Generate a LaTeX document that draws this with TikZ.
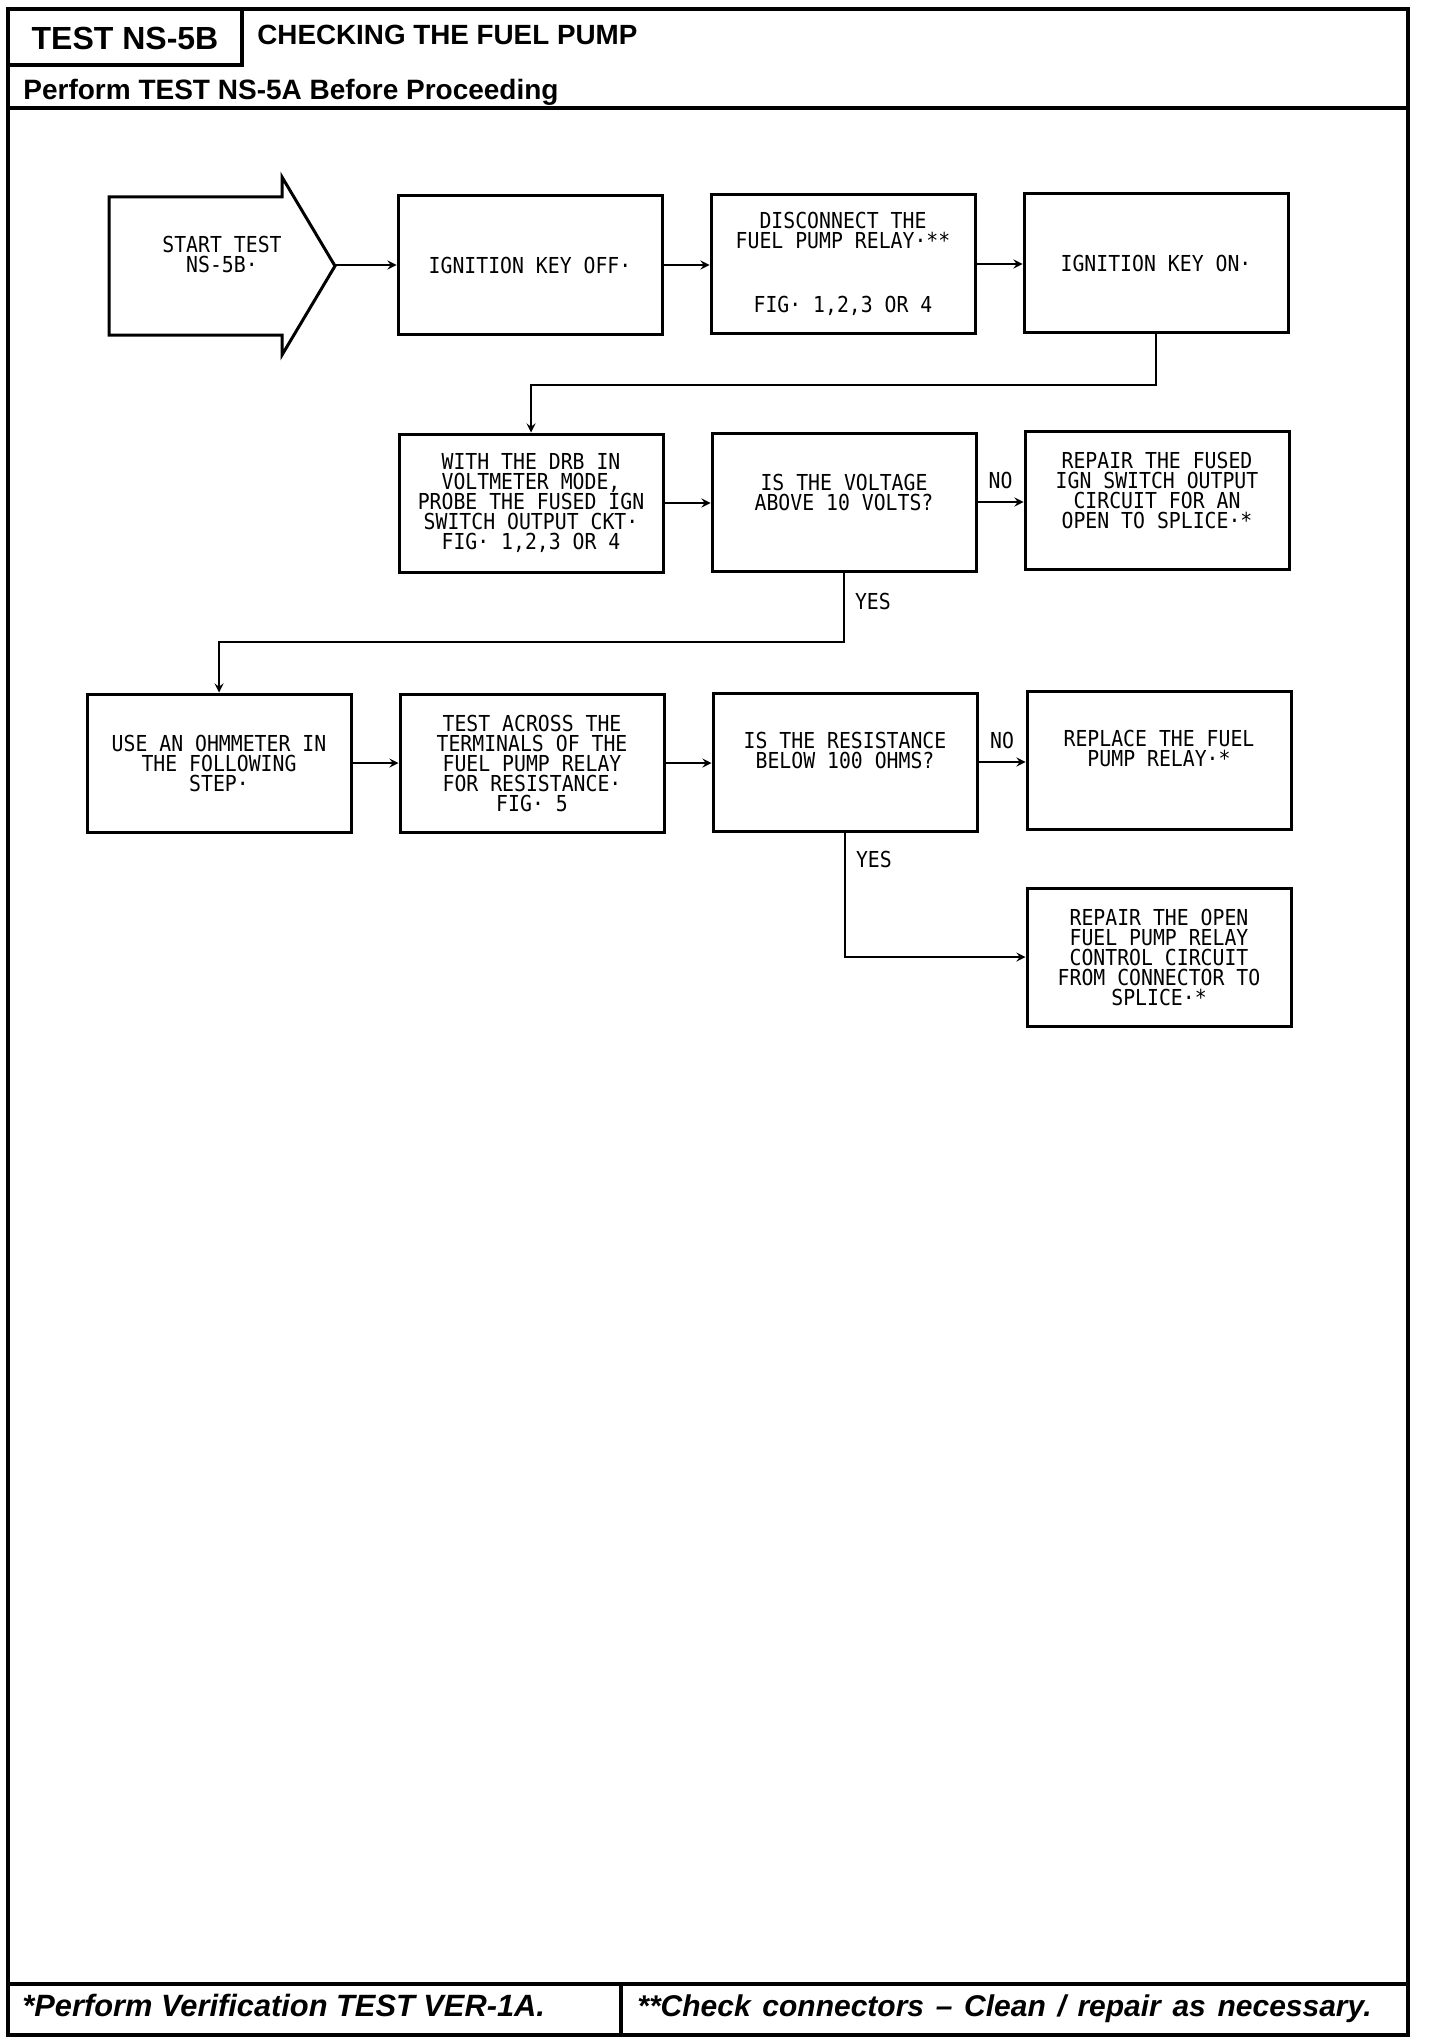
\documentclass[tikz,border=0pt]{standalone}
\usepackage{fontspec}
\setmainfont{Liberation Sans}
\newfontfamily\plotterfont[FakeStretch=0.9]{DejaVu Sans Mono}
\newfontfamily\notefont[WordSpace=1.4]{Liberation Sans}
\usetikzlibrary{calc}
\tikzset{
every picture/.style={x=0.5pt, y=-0.5pt, >=stealth},
%%%%%%%%%%  Node styles
plotter/.style={font=\plotterfont\fontsize{11}{10}\selectfont, align=center,
                inner sep=0pt},
box/.style={plotter, draw, line width=1.5pt, minimum width=132pt,
            minimum height=69pt},
answer/.style={plotter, inner sep=0pt},
heading/.style={anchor=base west, inner sep=0pt, font=\bfseries},
%%%% different line styles:
frame/.style={line width=1.6pt},
flow/.style={->, line width=1pt}
}
\begin{document}
\begin{tikzpicture}
\fill[white] (0,0) rectangle (1440,2044);
\useasboundingbox (0,0) rectangle (1440,2044);
%%%%%%% page frame
\draw[frame] (8,9) rectangle (1408,2035);
\draw[frame] (8,65) -| (242,9);
\draw[frame] (8,108) -- (1408,108);
\draw[frame] (8,1984) -- (1408,1984);
\draw[frame] (621,1984) -- (621,2035);
\node[anchor=base, inner sep=0pt, font=\bfseries\fontsize{16}{18}\selectfont]
    (testid) at (125,50) {TEST NS-5B};
\node[heading, font=\bfseries\fontsize{13.9}{15}\selectfont] (title) at (257,45)
    {CHECKING THE FUEL PUMP};
\node[heading, font=\bfseries\fontsize{14}{15}\selectfont] (before) at (23,100)
    {Perform TEST NS-5A Before Proceeding};
\node[heading, font=\bfseries\itshape\fontsize{15.4}{17}\selectfont] (note1)
    at (22,2016) {*Perform Verification TEST VER-1A.};
\node[heading, font=\notefont\bfseries\itshape\fontsize{15}{17}\selectfont]
    (note2) at (637,2016) {**Check connectors – Clean / repair as necessary.};
%%%%%%% start arrow
\draw[line width=1.5pt] (109,197) -- (282,197) -- (282,177) -- (335,266)
    -- (282,355) -- (282,335) -- (109,335) -- cycle;
\coordinate (starttip) at (335,265);
\node[plotter] (start) at (222,254) {START TEST\\NS-5B·};
%%%%%%% first row
\node[box] (ignoff) at (530,265) {IGNITION KEY OFF·};
\node[box] (disc) at (843,264)
    {DISCONNECT THE\\FUEL PUMP RELAY·**\\[22pt]FIG· 1,2,3 OR 4};
\node[box] (ignon) at (1156,263) {IGNITION KEY ON·};
%%%%%%% second row
\node[box] (probe) at (531,503)
    {WITH THE DRB IN\\VOLTMETER MODE,\\PROBE THE FUSED IGN\\SWITCH OUTPUT CKT·\\FIG· 1,2,3 OR 4};
\node[box, label={[plotter, yshift=5pt]center:{IS THE VOLTAGE\\ABOVE 10 VOLTS?}}]
    (volt) at (844,502) {};
\node[box, label={[plotter, yshift=5pt]center:{REPAIR THE FUSED\\IGN SWITCH OUTPUT\\CIRCUIT FOR AN\\OPEN TO SPLICE·*}}]
    (fused) at (1157,500) {};
%%%%%%% third row
\node[box] (ohm) at (219,763) {USE AN OHMMETER IN\\THE FOLLOWING\\STEP·};
\node[box] (across) at (532,763)
    {TEST ACROSS THE\\TERMINALS OF THE\\FUEL PUMP RELAY\\FOR RESISTANCE·\\FIG· 5};
\node[box, label={[plotter, yshift=6pt]center:{IS THE RESISTANCE\\BELOW 100 OHMS?}}]
    (resist) at (845,762) {};
\node[box, label={[plotter, yshift=6pt]center:{REPLACE THE FUEL\\PUMP RELAY·*}}]
    (relay) at (1159,760) {};
\node[box] (openckt) at (1159,957)
    {REPAIR THE OPEN\\FUEL PUMP RELAY\\CONTROL CIRCUIT\\FROM CONNECTOR TO\\SPLICE·*};
%%%%%%% connectors
\draw[flow] (starttip) -- (starttip -| ignoff.west);
\draw[flow] (ignoff.east) -- (ignoff.east -| disc.west);
\draw[flow] (disc.east) -- (disc.east -| ignon.west);
\draw[flow] (ignon.south) -- ++(0,51) -| (probe.north);
\draw[flow] (probe.east) -- (probe.east -| volt.west);
\draw[flow] (volt.east) -- (volt.east -| fused.west)
    node[answer, midway, above=6pt] {NO};
\draw[flow] (volt.south) -- ++(0,69) node[answer, pos=0.42, right=5pt] {YES}
    -| (ohm.north);
\draw[flow] (ohm.east) -- (ohm.east -| across.west);
\draw[flow] (across.east) -- (across.east -| resist.west);
\draw[flow] (resist.east) -- (resist.east -| relay.west)
    node[answer, midway, above=6pt] {NO};
\draw[flow] (resist.south) |- node[answer, pos=0.11, right=5pt] {YES}
    (openckt.west);
\end{tikzpicture}
\end{document}
